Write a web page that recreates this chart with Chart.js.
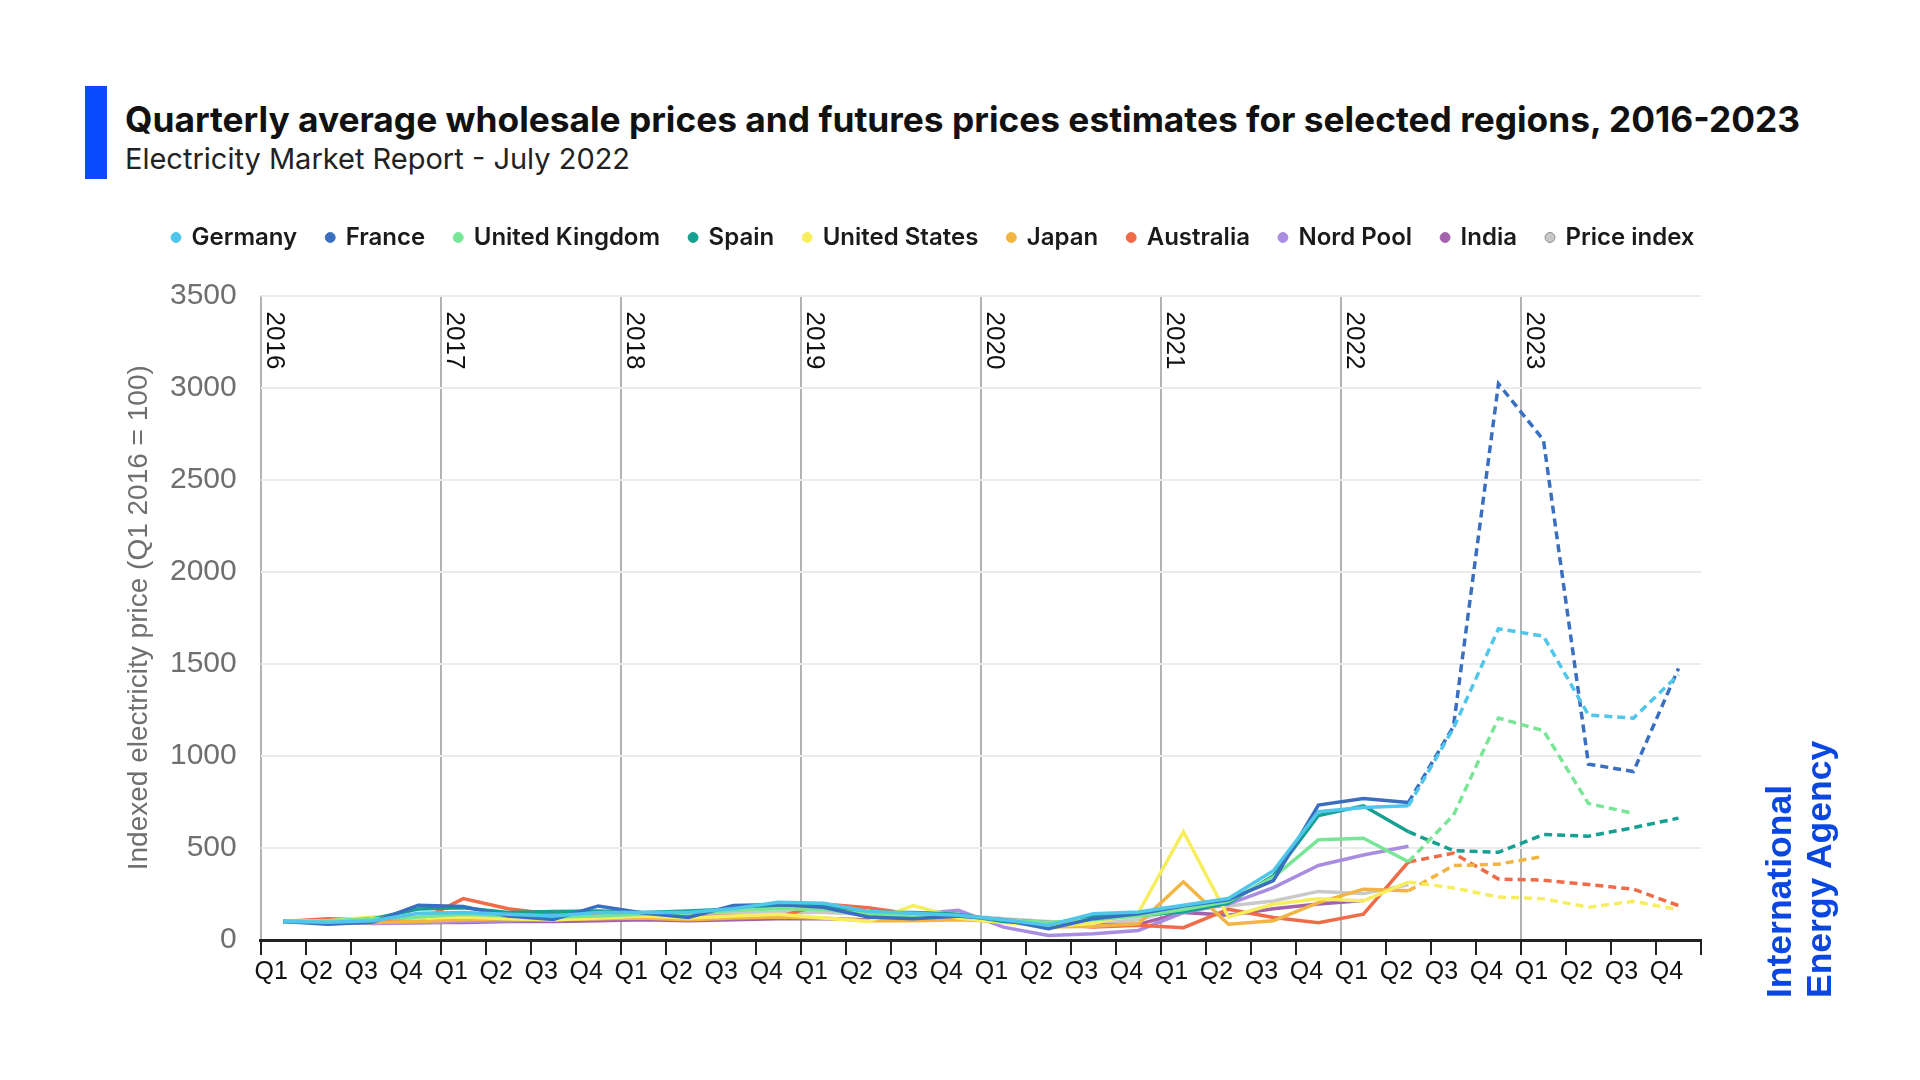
<!DOCTYPE html>
<html>
<head>
<meta charset="utf-8">
<title>Quarterly average wholesale prices</title>
<script src="https://cdn.jsdelivr.net/npm/chart.js@4.4.0/dist/chart.umd.min.js"></script>
<style>
  body { margin: 0; background: #fff; width: 1920px; height: 1080px; overflow: hidden; position: relative; }
  #bar { position: absolute; left: 85px; top: 86px; width: 22px; height: 93px; background: #0a4bff; }
  #title { position: absolute; left: 125px; top: 102px; font: 700 35.3px Inter, sans-serif; line-height: 1; color: #111; white-space: nowrap; }
  #subtitle { position: absolute; left: 125px; top: 144px; font: 400 29px Inter, sans-serif; line-height: 1; color: #222; white-space: nowrap; }
  #logo { position: absolute; left: 1759px; top: 998px; transform-origin: left top; transform: rotate(-90deg);
          font: 700 35.5px "Liberation Sans", Arial, sans-serif; line-height: 40px; color: #0a47e0; white-space: nowrap; }
  canvas { position: absolute; left: 0; top: 0; }
</style>
</head>
<body>
<div id="bar"></div>
<div id="title">Quarterly average wholesale prices and futures prices estimates for selected regions, 2016-2023</div>
<div id="subtitle">Electricity Market Report - July 2022</div>
<canvas id="chart" width="1920" height="1080"></canvas>
<div id="logo">International<br>Energy Agency</div>
<script>
// quarters Q1 2016 .. Q4 2023, futures (dashed) from Q2 2022 onward
const quarters = ['Q1','Q2','Q3','Q4','Q1','Q2','Q3','Q4','Q1','Q2','Q3','Q4','Q1','Q2','Q3','Q4',
                  'Q1','Q2','Q3','Q4','Q1','Q2','Q3','Q4','Q1','Q2','Q3','Q4','Q1','Q2','Q3','Q4'];
const years = ['2016','2017','2018','2019','2020','2021','2022','2023'];
const futuresFrom = 25;

const germany   = [100, 97, 105, 145, 150, 140, 130, 150, 150, 150, 170, 205, 200, 155, 145, 135, 110, 80, 143, 152, 189, 225, 376, 697, 720, 729, 1150, 1690, 1650, 1222, 1205, 1440];
const france    = [100, 85, 98, 188, 182, 130, 112, 185, 147, 122, 188, 193, 178, 125, 116, 130, 110, 61, 116, 143, 185, 218, 322, 733, 769, 747, 1160, 3020, 2715, 955, 915, 1475];
const uk        = [100, 105, 115, 125, 140, 130, 125, 130, 140, 145, 160, 170, 165, 140, 130, 130, 110, 95, 110, 130, 165, 210, 340, 544, 553, 425, 678, 1205, 1137, 741, 688, null];
const spain     = [100, 98, 115, 168, 175, 150, 155, 158, 150, 158, 168, 190, 190, 150, 150, 140, 100, 85, 130, 135, 153, 200, 349, 676, 729, 588, 485, 476, 573, 564, 610, 662];
const us        = [100, 105, 125, 120, 125, 115, 110, 120, 130, 120, 130, 140, 120, 100, 187, 120, 95, 75, 90, 148, 588, 125, 194, 224, 212, 315, 283, 233, 224, 178, 210, 164];
const japan     = [100, 100, 95, 100, 110, 115, 110, 115, 120, 110, 120, 125, 120, 105, 105, 110, 100, 70, 75, 88, 316, 86, 104, 203, 276, 267, 404, 412, 454, null, null, null];
const australia = [100, 115, 110, 100, 225, 170, 140, 140, 140, 125, 130, 125, 195, 175, 140, 125, 110, 85, 70, 80, 67, 167, 122, 94, 140, 424, 472, 331, 325, 301, 276, 187];
const nordPool  = [100, 95, 90, 92, 100, 105, 110, 115, 130, 135, 170, 185, 190, 140, 140, 162, 70, 25, 34, 52, 149, 195, 285, 405, 462, 509, null, null, null, null, null, null];
const india     = [100, 100, 95, 95, 95, 100, 100, 105, 110, 105, 110, 115, 115, 110, 110, 120, 110, 95, 80, 85, 150, 135, 170, 195, 215, null, null, null, null, null, null, null];
const priceIdx  = [100, 105, 110, 120, 135, 130, 125, 130, 140, 135, 145, 150, 150, 140, 135, 135, 115, 100, 90, 110, 176, 185, 212, 264, 252, 300, null, null, null, null, null, null];

function series(label, data, color) {
  return {
    label: label,
    data: data,
    borderColor: color,
    backgroundColor: color,
    borderWidth: 3.5,
    pointRadius: 0,
    tension: 0,
    segment: {
      borderDash: c => c.p0DataIndex >= futuresFrom ? [8, 5] : undefined
    }
  };
}

// year names standing next to the vertical lines
const yearLabels = {
  id: 'yearLabels',
  afterDraw(chart) {
    const {ctx, scales: {x, y}} = chart;
    const step = x.getPixelForTick(1) - x.getPixelForTick(0);
    ctx.save();
    ctx.font = '26px "Liberation Sans", Arial, sans-serif';
    ctx.fillStyle = '#111';
    ctx.textAlign = 'left';
    ctx.textBaseline = 'alphabetic';
    years.forEach((yr, k) => {
      const lineX = x.getPixelForTick(k * 4) - step / 2;
      ctx.save();
      ctx.translate(lineX + 6, y.top + 16);
      ctx.rotate(Math.PI / 2);
      ctx.fillText(yr, 0, 0);
      ctx.restore();
    });
    ctx.restore();
  }
};

// legend sits a bit off the plot centre and higher than chart.js puts it
const legendShift = {
  id: 'legendShift',
  afterLayout(chart) {
    const lg = chart.legend;
    lg.left += 33; lg.right += 33;
    lg.top -= 36; lg.bottom -= 36;
  }
};

const ctx = document.getElementById('chart');
const chart = new Chart(ctx, {
  type: 'line',
  data: {
    labels: quarters,
    datasets: [
      series('Germany', germany, '#4fc6ea'),
      series('France', france, '#3a6fc0'),
      series('United Kingdom', uk, '#78e597'),
      series('Spain', spain, '#15a091'),
      series('United States', us, '#f7ee5f'),
      series('Japan', japan, '#f2b443'),
      series('Australia', australia, '#f06b47'),
      series('Nord Pool', nordPool, '#a98de0'),
      series('India', india, '#a262ab'),
      series('Price index', priceIdx, '#c9c9c9'),
    ]
  },
  options: {
    responsive: false,
    animation: false,
    devicePixelRatio: 1,
    layout: { padding: { top: 232, left: 100, right: 219, bottom: 80 } },
    plugins: {
      title: { display: false },
      tooltip: { enabled: false },
      legend: {
        position: 'top',
        labels: {
          usePointStyle: true,
          pointStyle: 'circle',
          boxWidth: 7,
          boxHeight: 7,
          padding: 29.5,
          color: '#1a1a1a',
          font: { family: 'Inter', size: 24, weight: '600' },
          generateLabels(chart) {
            return Chart.defaults.plugins.legend.labels.generateLabels(chart).map(l => {
              l.lineWidth = 1;
              if (l.text === 'Price index') l.strokeStyle = '#8a8a8a';
              return l;
            });
          }
        }
      }
    },
    scales: {
      x: {
        offset: true,
        afterFit(scale) { scale.height = 60; },
        grid: {
          offset: true,
          lineWidth: 2,
          color: c => (c.index % 4 === 0 && c.index < 32) ? '#b3b3b3' : 'rgba(0,0,0,0)',
          tickColor: '#222',
          tickLength: 15,
          tickWidth: 2
        },
        border: { display: true, color: '#222', width: 3 },
        ticks: {
          autoSkip: false,
          maxRotation: 0,
          padding: 2,
          labelOffset: -12,
          color: '#111',
          font: { family: '"Liberation Sans", Arial, sans-serif', size: 25 }
        }
      },
      y: {
        min: 0,
        max: 3500,
        afterFit(scale) { scale.width = 160.7; },
        grid: { color: '#ebebeb', lineWidth: 2, drawTicks: false },
        border: { display: false },
        ticks: {
          stepSize: 500,
          padding: 24,
          color: '#6f6f6f',
          callback: v => String(v),
          font: { family: '"Liberation Sans", Arial, sans-serif', size: 30 }
        },
        title: {
          display: true,
          text: 'Indexed electricity price (Q1 2016 = 100)',
          color: '#6f6f6f',
          padding: { top: 22, bottom: 0 },
          font: { family: '"Liberation Sans", Arial, sans-serif', size: 28 }
        }
      }
    }
  },
  plugins: [yearLabels, legendShift]
});
</script>
</body>
</html>
